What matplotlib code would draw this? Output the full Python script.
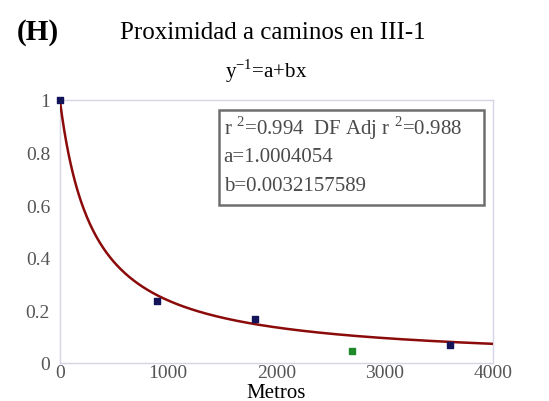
import numpy as np
import matplotlib.pyplot as plt
from matplotlib.patches import Rectangle

plt.rcParams['font.family'] = ['Liberation Serif', 'DejaVu Serif']

# observed points (Metros, proximidad)
dist_blue = [0, 900, 1800, 3600]
prox_blue = [1.0, 0.236, 0.166, 0.068]
dist_green = [2700]
prox_green = [0.046]

# fit y^-1 = a + b x
a = 1.0004054
b = 0.0032157589

x_ticks = [0, 1000, 2000, 3000, 4000]
y_ticks = [0, 0.2, 0.4, 0.6, 0.8, 1]
y_labels = ["0", "0.2", "0.4", "0.6", "0.8", "1"]

box_lines = [
    r"r $^{\mathregular{2}}$=0.994  DF Adj r $^{\mathregular{2}}$=0.988",
    "a=1.0004054",
    "b=0.0032157589",
]


def main():
    fig = plt.figure(figsize=(5.49, 4.02), dpi=100)
    ax = fig.add_axes([0.109, 0.095, 0.789, 0.654])

    xs = np.linspace(0, 4000, 400)
    ax.plot(xs, 1 / (a + b * xs), color="#8b0a0a", lw=1.8, zorder=3)
    ax.scatter(dist_blue, prox_blue, marker="s", s=18, color="#14145a",
               zorder=4, clip_on=False)
    ax.scatter(dist_green, prox_green, marker="s", s=18, color="#1e8a2a",
               zorder=4, clip_on=False)

    ax.set_xlim(0, 4000)
    ax.set_ylim(0, 1)
    ax.set_xticks(x_ticks)
    ax.set_yticks(y_ticks)
    ax.set_yticklabels(y_labels)
    ax.tick_params(length=0, labelsize=14, labelcolor="#555555")
    ax.tick_params(axis="y", pad=7)
    ax.tick_params(axis="x", pad=1)
    for s in ax.spines.values():
        s.set_color("#d4d6e6")
        s.set_linewidth(1)

    ax.set_xlabel("Metros", fontsize=15, labelpad=1)

    fig.text(0.031, 0.918, "(H)", fontsize=21, fontweight="bold", va="center")
    fig.text(0.497, 0.918, "Proximidad a caminos en III-1", fontsize=18,
             ha="center", va="center")
    fig.text(0.485, 0.822, r"y$^{\mathregular{-1}}$=a+bx", fontsize=15,
             ha="center", va="center")

    ax.add_patch(Rectangle((0.367, 0.601), 0.612, 0.361, transform=ax.transAxes,
                           fc="white", ec="#6e6e6e", lw=1.8, zorder=5))
    for txt, yy in zip(box_lines, [0.897, 0.783, 0.673]):
        ax.text(0.378, yy, txt, transform=ax.transAxes, fontsize=15,
                color="#4a4a4a", va="center", zorder=6)

    fig.savefig("out.png", dpi=100)


if __name__ == "__main__":
    main()
